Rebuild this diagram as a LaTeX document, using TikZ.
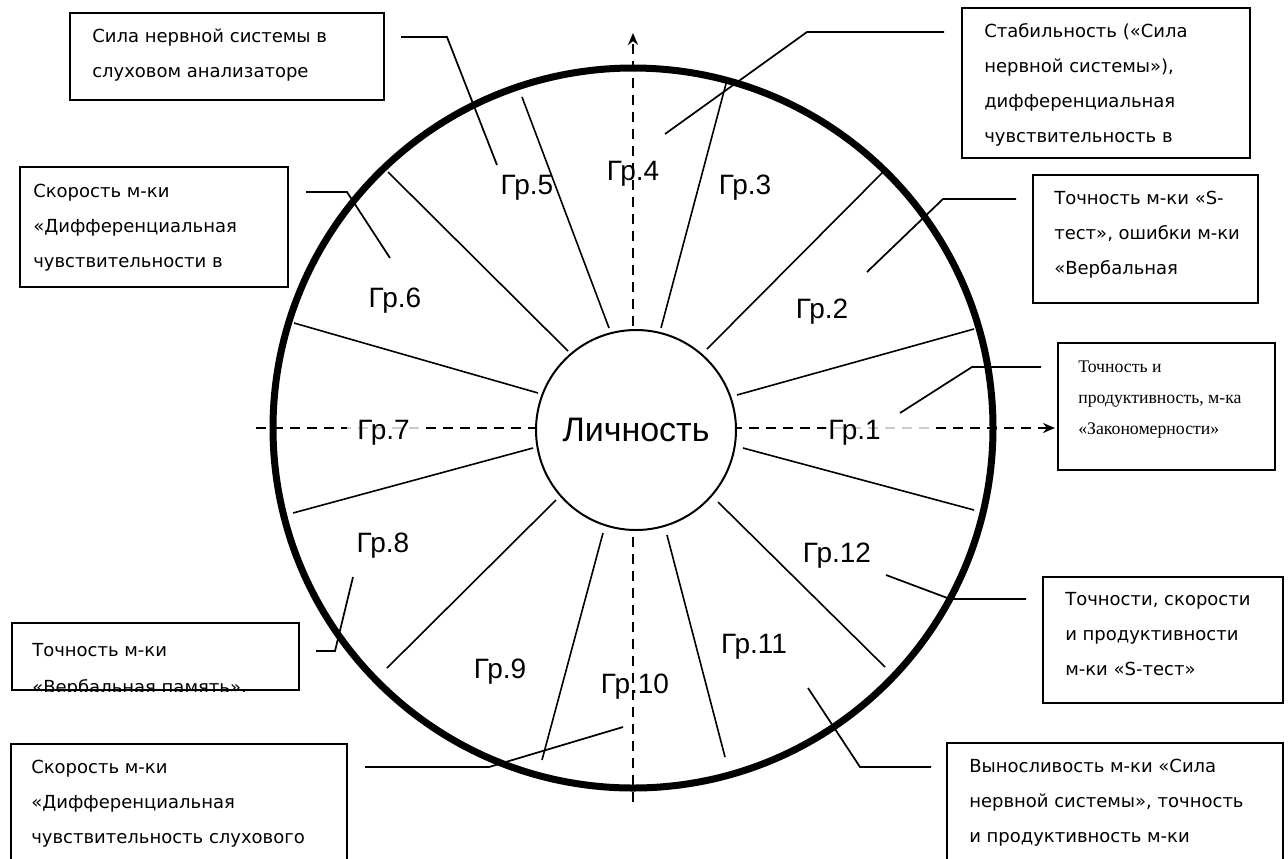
\documentclass[tikz,border=0pt]{standalone}
\usepackage{fontspec}
\setmainfont{DejaVu Sans}
\newfontfamily\arialf{Liberation Sans}
\newfontfamily\timesf{Liberation Serif}
\usetikzlibrary{arrows.meta,fit,calc}

\begin{document}
\begin{tikzpicture}[x=0.75pt,y=-0.75pt,
  boxframe/.style={draw, line width=1.5pt, inner sep=0pt},
  boxtext/.style={anchor=base west, inner sep=0pt, font=\fontsize{13.5}{26.25}\selectfont},
  serftext/.style={anchor=base west, inner sep=0pt, font=\timesf\fontsize{13.3}{23.25}\selectfont},
  grp/.style={anchor=base, inner sep=0pt, font=\arialf\fontsize{21}{25}\selectfont},
  grpfill/.style={anchor=base west, inner xsep=0pt, inner ysep=4pt, fill=white, fill opacity=0.8, text opacity=1, font=\arialf\fontsize{21}{25}\selectfont},
  spoke/.style={line width=1.2pt},
  callout/.style={line width=1.3pt},
  axisline/.style={line width=1.5pt, dash pattern=on 7.5pt off 5.25pt},
]
\useasboundingbox (0,0) rectangle (1288,858);
\clip (0,0) rectangle (1288,858);

% outer ring
\draw[line width=5.25pt] (633,428) circle[radius=270pt];

% twelve dividing spokes
\foreach \xa/\ya/\xb/\yb in {
  737/395/974/329, 707/349/883/172, 661/328/727/80, 609/328/522/97,
  568/351/388/172, 538/393/294/323, 533/448/293/513, 556/500/387/668,
  603/533/542/760, 667/535/725/757, 718/502/885/667, 743/448/974/510}
  \draw[spoke] (\xa,\ya) -- (\xb,\yb);

% axes
\coordinate (vbot) at (633,802);
\coordinate (vtop) at (633,33);
\coordinate (hleft) at (256,428);
\coordinate (hright) at (1055,428);
\draw[axisline, -{Stealth[length=9pt,width=7.5pt]}] (vbot) -- (vtop);
\draw[axisline, -{Stealth[length=9pt,width=7.5pt]}] (hleft) -- (hright);

% centre
\node[circle, draw, line width=1.5pt, fill=white, minimum size=150pt, inner sep=0pt,
      font=\arialf\fontsize{25.5}{30}\selectfont] (core) at (636,430) {\raisebox{-3pt}{Личность}};

% sector labels
\node[grpfill] (g1) at (826,439) {\makebox[82pt][l]{\hspace{1.5pt}Гр.1}};
\node[grp] (g2) at (822,318) {Гр.2};
\node[grp] (g3) at (745,194) {Гр.3};
\node[grp] (g4) at (633,180) {Гр.4};
\node[grp] (g5) at (527,194) {Гр.5};
\node[grp] (g6) at (395,307) {Гр.6};
\node[grpfill] (g7) at (347,439) {\makebox[55pt][l]{\hspace{7.5pt}Гр.7}};
\node[grp] (g8) at (383,552) {Гр.8};
\node[grp] (g9) at (500,678) {Гр.9};
\node[grp] (g10) at (635,693) {Гр.10};
\node[grp] (g11) at (754,653) {Гр.11};
\node[grp] (g12) at (837,562) {Гр.12};

% boxes
\node[boxframe, fit={(70,13) (384,100)}] (bA) {};
\node[boxtext] (tA) at (92,42) {\vtop{\hbox{Сила нервной системы в}\hbox{слуховом анализаторе}}};

\node[boxframe, fit={(962,8) (1250,158)}] (bB) {};
\node[boxtext] (tB) at (984,37) {\vtop{\hbox{Стабильность («Сила}\hbox{нервной системы»),}\hbox{дифференциальная}\hbox{чувствительность в}}};

\node[boxframe, fit={(20,167) (288,287)}] (bC) {};
\node[boxtext] (tC) at (33,197) {\vtop{\hbox{Скорость м-ки}\hbox{«Дифференциальная}\hbox{чувствительности в}}};

\node[boxframe, fit={(1033,175) (1258,303)}] (bD) {};
\node[boxtext] (tD) at (1054,204) {\vtop{\hbox{Точность м-ки «S-}\hbox{тест», ошибки м-ки}\hbox{«Вербальная}}};

\node[boxframe, fit={(1058,343) (1275,470)}] (bE) {};
\node[serftext] (tE) at (1078,372) {\vtop{\hbox{Точность и}\hbox{продуктивность, м-ка}\hbox{«Закономерности»}}};

\node[boxframe, fit={(1043,577) (1283,703)}] (bF) {};
\node[boxtext] (tF) at (1065,605) {\vtop{\hbox{Точности, скорости}\hbox{и продуктивности}\hbox{м-ки «S-тест»}}};

\node[boxframe, fit={(947,743) (1283,880)}] (bG) {};
\node[boxtext] (tG) at (969,772) {\vtop{\hbox{Выносливость м-ки «Сила}\hbox{нервной системы», точность}\hbox{и продуктивность м-ки}}};

\node[boxframe, fit={(11,744) (347,880)}] (bH) {};
\node[boxtext] (tH) at (31,773) {\vtop{\hbox{Скорость м-ки}\hbox{«Дифференциальная}\hbox{чувствительность слухового}}};

% the lower line of this box is cut by its frame
\node[boxframe, fit={(12,623) (299,690)}] (bI) {};
\begin{scope}
  \clip (bI.north west) rectangle (bI.south east);
  \node[boxtext, font=\fontsize{13.5}{27.75}\selectfont] (tI) at (32,656) {\vtop{\hbox{Точность м-ки}\hbox{«Вербальная память».}}};
\end{scope}

% callouts: elbow and tip of each leader
\coordinate (eA) at (447,37);  \coordinate (pA) at (497,165);
\coordinate (eB) at (807,32);  \coordinate (pB) at (665,134);
\coordinate (eC) at (347,192); \coordinate (pC) at (390,258);
\coordinate (eD) at (943,199); \coordinate (pD) at (867,272);
\coordinate (eE) at (972,367); \coordinate (pE) at (900,413);
\coordinate (eF) at (950,599); \coordinate (pF) at (886,575);
\coordinate (eG) at (860,767); \coordinate (pG) at (808,688);
\coordinate (eH) at (489,767); \coordinate (pH) at (623,727);
\coordinate (eI) at (335,651); \coordinate (pI) at (353,577);

\draw[callout] ($(bA.east |- eA)+(16,0)$) -- (eA) -- (pA);
\draw[callout] ($(bB.west |- eB)+(-17,0)$) -- (eB) -- (pB);
\draw[callout] ($(bC.east |- eC)+(17,0)$) -- (eC) -- (pC);
\draw[callout] ($(bD.west |- eD)+(-16,0)$) -- (eD) -- (pD);
\draw[callout] ($(bE.west |- eE)+(-16,0)$) -- (eE) -- (pE);
\draw[callout] ($(bF.west |- eF)+(-16,0)$) -- (eF) -- (pF);
\draw[callout] ($(bG.west |- eG)+(-15,0)$) -- (eG) -- (pG);
\draw[callout] ($(bH.east |- eH)+(17,0)$) -- (eH) -- (pH);
\draw[callout] ($(bI.east |- eI)+(16,0)$) -- (eI) -- (pI);
\end{tikzpicture}
\end{document}
